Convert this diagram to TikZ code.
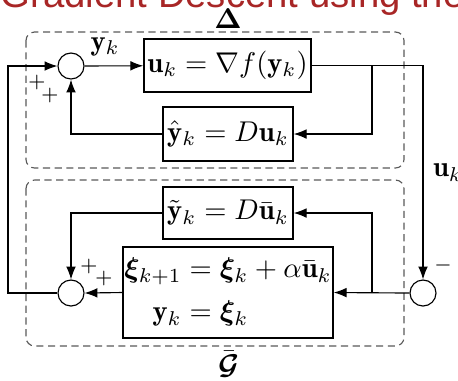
\documentclass[tikz,border=0pt]{standalone}
\usepackage{amsmath,bm}
\usepackage{fontspec}
\newfontfamily\titlefont{Liberation Sans}
\usetikzlibrary{arrows.meta}
\definecolor{titlered}{RGB}{168,38,38}

\begin{document}
\begin{tikzpicture}[x=0.35pt,y=-0.35pt,
   line width=0.4pt,
   >={Latex[length=4.5pt,width=3.4pt]},
   block/.style={draw, line width=0.5pt, inner sep=0pt},
   sum/.style={draw, circle, minimum size=9.1pt, inner sep=0pt},
   sysbox/.style={draw=black!65, dash pattern=on 2.5pt off 1.6pt, rounded corners=3pt},
   sign/.style={font=\scriptsize, inner sep=0pt}]
   \useasboundingbox (0,0) rectangle (458,380);
   \clip (0,0) rectangle (458,380);

   % Title, cut off at the top
   \node[anchor=base west, inner sep=0pt, text=titlered,
         font=\titlefont\fontsize{13.4}{16}\selectfont] (title) at (0,7)
         {Gradient Descent using the};

   % Upper system
   \draw[sysbox] (26,32) rectangle (404,168);
   \node (delta) at (228,19) {$\boldsymbol{\Delta}$};
   \node[sum] (s1) at (71,66) {};
   \node[block, minimum width=58.5pt, minimum height=18.5pt] (grad) at (227.5,65.5)
         {$\mathbf{u}_k = \nabla f(\mathbf{y}_k)$};
   \node[block, minimum width=45.5pt, minimum height=18.9pt] (yhat) at (228,134)
         {$\hat{\mathbf{y}}_k = D\mathbf{u}_k$};

   % Lower system
   \draw[sysbox] (26,180) rectangle (404,346);
   \node (gbar) at (229,364) {$\bar{\boldsymbol{\mathcal{G}}}$};
   \node[block, minimum width=45.5pt, minimum height=18.2pt] (ytil) at (228,213)
         {$\tilde{\mathbf{y}}_k = D\bar{\mathbf{u}}_k$};
   \node[block, minimum width=73.5pt, minimum height=31.9pt] (dyn) at (228,292.5)
         {$\begin{aligned}
            \bm{\xi}_{k+1} &= \bm{\xi}_k + \alpha\bar{\mathbf{u}}_k\\
            \mathbf{y}_k &= \bm{\xi}_k
          \end{aligned}$};
   \node[sum] (s2) at (71,293) {};
   \node[sum] (s3) at (423,293) {};

   % Branch points
   \coordinate (j1) at (372,66);
   \coordinate (j2) at (372,293);
   \coordinate (fb) at (8,293);

   % Connections
   \draw[->] (s1) -- node[above, pos=0.35] {$\mathbf{y}_k$} (grad);
   \draw[->] (grad.east) -- (grad.east -| s3) -- node[right] {$\mathbf{u}_k$} (s3.north);
   \draw[->] (j1) |- (yhat.east);
   \draw[->] (yhat.west) -| (s1.south);
   \draw[->] (s3.west) -- (dyn.east);
   \draw[->] (j2) |- (ytil.east);
   \draw[->] (ytil.west) -| (s2.north);
   \draw[->] (dyn.west) -- (s2.east);
   \draw[->] (s2.west) -- (fb) |- (s1.west);

   % Signs
   \node[sign] (p1) at (37,82) {$+$};
   \node[sign] (p2) at (50,95) {$+$};
   \node[sign] (p3) at (89,266) {$+$};
   \node[sign] (p4) at (104,278) {$+$};
   \node[sign] (m1) at (443,265) {$-$};
\end{tikzpicture}
\end{document}
